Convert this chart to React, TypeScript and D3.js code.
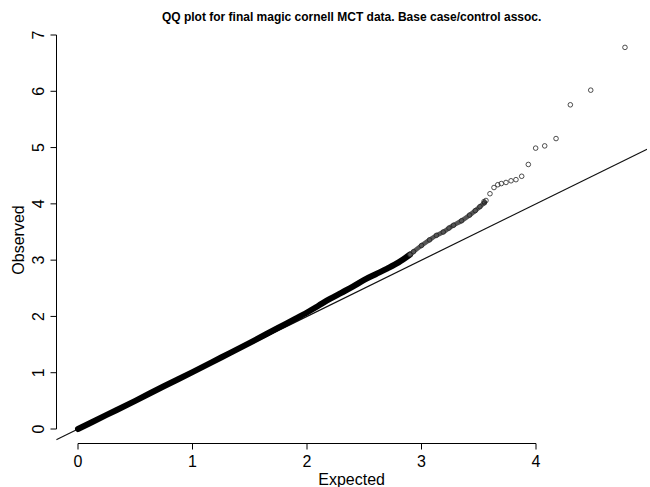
import React from "react";
import * as d3 from "d3";

// Dense body of the QQ curve (overlapping points), read along its centre
const bandExpected = [0, 0.25, 0.5, 0.75, 1.0, 1.25, 1.5, 1.75, 1.9, 2.0, 2.1, 2.2, 2.3, 2.4, 2.5, 2.6, 2.7, 2.8, 2.9];
const bandObserved = [0.0, 0.25, 0.5, 0.76, 1.01, 1.27, 1.53, 1.8, 1.96, 2.07, 2.19, 2.31, 2.42, 2.53, 2.65, 2.75, 2.85, 2.96, 3.1];

// Thinning section where single circles start to show
const midExpected = [2.9, 2.93, 3.0, 3.07, 3.13, 3.19, 3.24, 3.28, 3.35, 3.42, 3.47, 3.51, 3.55];
const midObserved = [3.1, 3.15, 3.26, 3.36, 3.44, 3.5, 3.57, 3.62, 3.7, 3.8, 3.88, 3.95, 4.02];

// Individually visible points of the tail
const tailExpected = [3.546, 3.563, 3.598, 3.633, 3.666, 3.697, 3.738, 3.782, 3.825, 3.875, 3.933, 3.997, 4.076, 4.175, 4.3, 4.478, 4.777];
const tailObserved = [4.04, 4.06, 4.18, 4.29, 4.34, 4.36, 4.38, 4.41, 4.43, 4.49, 4.7, 4.99, 5.03, 5.16, 5.76, 6.02, 6.78];

const xTicks = [0, 1, 2, 3, 4];
const yTicks = [0, 1, 2, 3, 4, 5, 6, 7];
const title = "QQ plot for final magic cornell MCT data. Base case/control assoc.";
const xLabel = "Expected";
const yLabel = "Observed";

const W = 650;
const H = 487;
const FONT = "'Liberation Sans', Arial, Helvetica, sans-serif";

export default function App() {
  const x = d3.scaleLinear().domain([0, 4]).range([78, 536]);
  const y = d3.scaleLinear().domain([0, 7]).range([429, 35]);
  const xUsr: [number, number] = [-0.19, 4.97];
  const yUsr: [number, number] = [-0.27, 7.06];
  const left = x(xUsr[0]);
  const right = x(xUsr[1]);
  const top = y(yUsr[1]);
  const bottom = y(yUsr[0]);

  const line = d3
    .line<[number, number]>()
    .x((d) => x(d[0]))
    .y((d) => y(d[1]))
    .curve(d3.curveMonotoneX);

  const band = bandExpected.map((e, i) => [e, bandObserved[i]] as [number, number]);
  const mid = midExpected.map((e, i) => [e, midObserved[i]] as [number, number]);
  const tail = tailExpected.map((e, i) => [e, tailObserved[i]] as [number, number]);

  return (
    <svg
      width={W}
      height={H}
      style={{ position: "absolute", left: 0, top: 0, background: "#fff" }}
      fontFamily={FONT}
    >
      <rect x={0} y={0} width={W} height={H} fill="#fff" />
      <defs>
        <clipPath id="plot">
          <rect x={left} y={top} width={right - left} height={bottom - top} />
        </clipPath>
      </defs>

      {/* title */}
      <text x={(left + right) / 2} y={21} textAnchor="middle" fontWeight="bold" fontSize={12} fill="#000">
        {title}
      </text>

      {/* y = x reference line */}
      <line
        clipPath="url(#plot)"
        x1={x(xUsr[0])}
        y1={y(xUsr[0])}
        x2={x(xUsr[1])}
        y2={y(xUsr[1])}
        stroke="#111"
        strokeWidth={1.2}
      />

      {/* dense band */}
      <path d={line(band) || ""} fill="none" stroke="#000" strokeWidth={6} strokeLinecap="round" strokeLinejoin="round" />
      <path d={line(mid) || ""} fill="none" stroke="#555" strokeWidth={4.6} strokeLinecap="round" strokeLinejoin="round" />
      {mid.map((d, i) => (
        <circle key={"m" + i} cx={x(d[0])} cy={y(d[1])} r={2.3} fill="none" stroke="#222" strokeWidth={0.8} />
      ))}
      {tail.map((d, i) => (
        <circle key={"t" + i} cx={x(d[0])} cy={y(d[1])} r={2.3} fill="none" stroke="#222" strokeWidth={0.8} />
      ))}

      {/* x axis */}
      <line x1={x(0)} x2={x(4)} y1={443.5} y2={443.5} stroke="#000" strokeWidth={1} />
      {xTicks.map((t) => (
        <g key={"xt" + t}>
          <line x1={x(t)} x2={x(t)} y1={443.5} y2={449.5} stroke="#000" strokeWidth={1} />
          <text x={x(t)} y={467} textAnchor="middle" fontSize={16} fill="#000">
            {t}
          </text>
        </g>
      ))}
      <text x={(left + right) / 2} y={485} textAnchor="middle" fontSize={16} fill="#000">
        {xLabel}
      </text>

      {/* y axis */}
      <line x1={56.5} x2={56.5} y1={y(0)} y2={y(7)} stroke="#000" strokeWidth={1} />
      {yTicks.map((t) => (
        <g key={"yt" + t}>
          <line x1={50.5} x2={56.5} y1={y(t)} y2={y(t)} stroke="#000" strokeWidth={1} />
          <text
            transform={`translate(44,${y(t)}) rotate(-90)`}
            textAnchor="middle"
            fontSize={16}
            fill="#000"
          >
            {t}
          </text>
        </g>
      ))}
      <text transform={`translate(24,240) rotate(-90)`} textAnchor="middle" fontSize={16} fill="#000">
        {yLabel}
      </text>
    </svg>
  );
}
